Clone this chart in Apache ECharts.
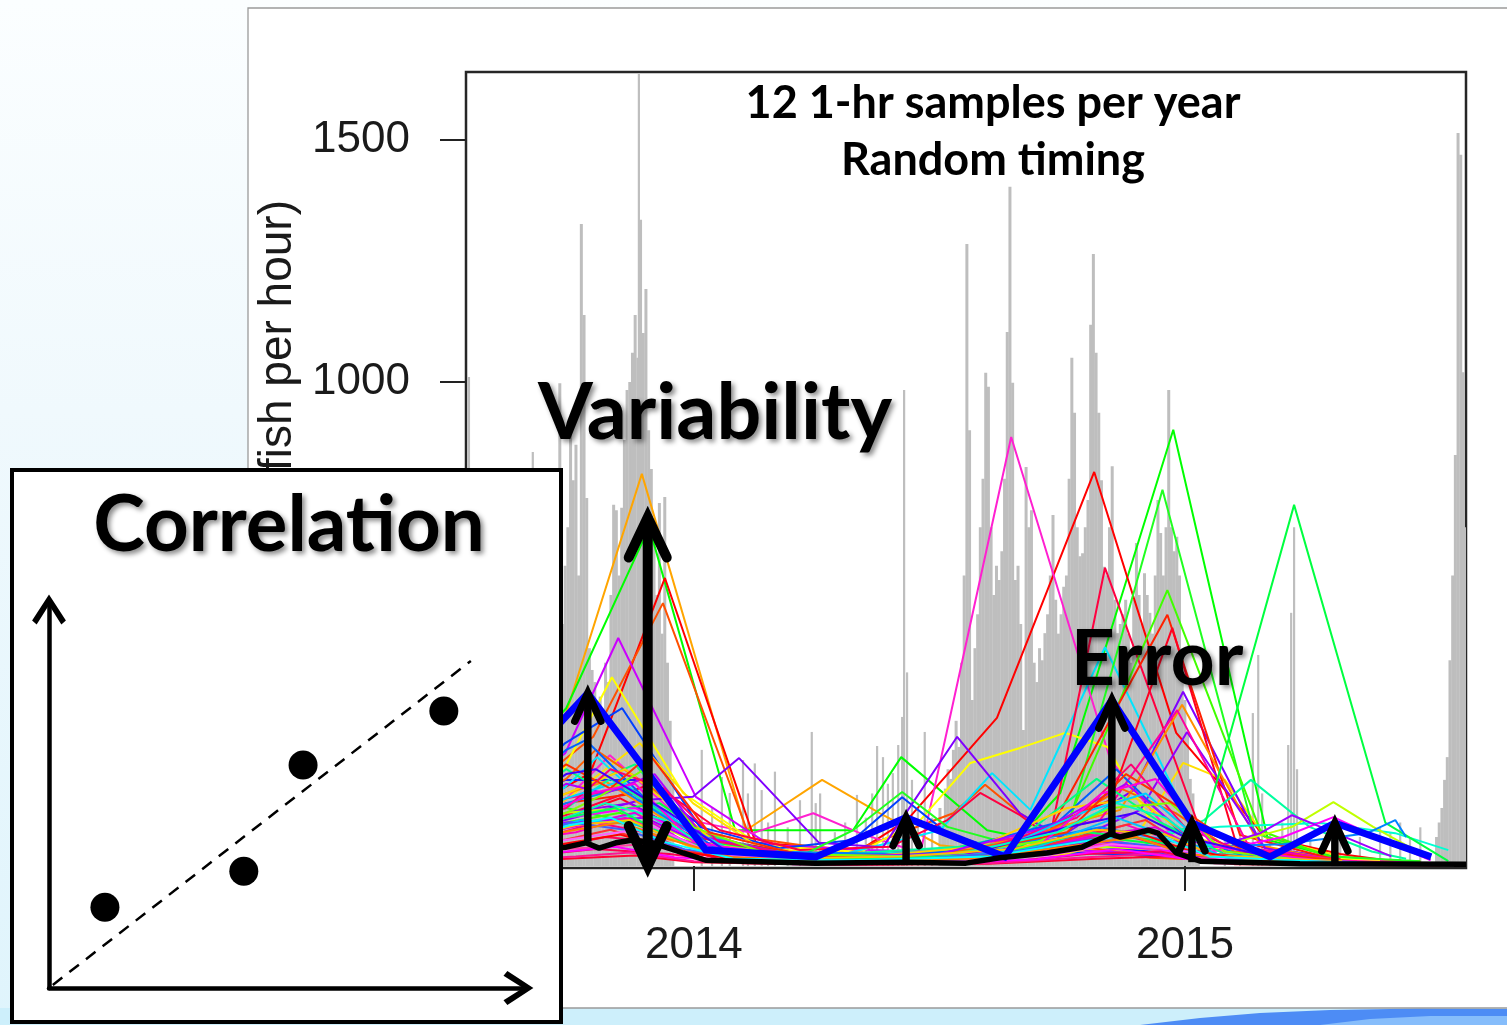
<!DOCTYPE html>
<html>
<head>
<meta charset="utf-8">
<script src="https://cdn.jsdelivr.net/npm/echarts@6/dist/echarts.min.js"></script>
<style>
html, body { margin: 0; padding: 0; }
body {
  width: 1507px; height: 1025px; overflow: hidden;
  background: linear-gradient(to bottom, #fbfeff 0%, #f0f9fd 40%, #dff4fc 100%);
}
#chart { width: 1507px; height: 1025px; }
</style>
</head>
<body>
<div id="chart"></div>
<script>
// ---- axes ----
const yearTicks = [2014, 2015];
const countTicks = [0, 500, 1000, 1500];

// ---- hourly counts (grey): daily peaks on a two-day grid through the busy stretches ----
const binYears = 2 / 365;
const run2013Start = 2013.727;
const run2013 = [997, 500, 620, 700, 907, 797, 870, 600, 1326, 1138, 760, 450, 405, 380, 330, 350,
  310, 420, 380, 560, 746, 735, 600, 740, 880, 983, 1000, 1060, 1138, 1050, 1335, 1101, 1192, 900,
  820, 700, 560, 750, 480, 762, 420, 300, 180];
const run2014Start = 2014.501;
const run2014 = [120, 90, 160, 200, 180, 240, 300, 246, 420, 600, 1285, 900, 343, 450, 520, 700, 800,
  1019, 990, 700, 560, 620, 591, 650, 800, 1103, 1403, 998, 591, 620, 500, 281, 824, 700, 735, 420,
  380, 450, 425, 481, 520, 600, 725, 550, 480, 520, 577, 600, 800, 1050, 936, 700, 640, 646, 700, 756,
  1118, 1264, 1060, 936, 797, 618, 600, 700, 826, 550, 481, 500, 520, 550, 480, 420, 550, 667, 560,
  500, 605, 560, 523, 480, 600, 756, 688, 600, 700, 983, 700, 650, 680, 600, 400, 343, 275, 180, 150,
  90, 60];
const run2015Start = 2015.512;
const run2015 = [60, 90, 120, 178, 225, 425, 600, 849, 1514, 1469, 1020, 700];
// single hourly peaks outside those stretches
const isolatedPeaks = [
  [2013.542, 1010], [2013.672, 855], [2013.888, 1636],
  [2014.016, 240], [2014.037, 120], [2014.057, 184], [2014.073, 151], [2014.100, 219], [2014.110, 150],
  [2014.124, 212], [2014.138, 157], [2014.151, 90], [2014.165, 195], [2014.191, 80], [2014.216, 136],
  [2014.240, 277], [2014.248, 130], [2014.257, 150], [2014.287, 70], [2014.308, 90], [2014.332, 147],
  [2014.350, 100], [2014.363, 150], [2014.373, 248], [2014.385, 225], [2014.395, 170], [2014.405, 192],
  [2014.416, 250], [2014.424, 308], [2014.428, 983], [2014.434, 400], [2014.444, 178], [2014.456, 120],
  [2014.470, 277], [2014.485, 100],
  [2015.081, 60], [2015.112, 80], [2015.138, 316], [2015.149, 436], [2015.157, 150], [2015.173, 70],
  [2015.198, 90], [2015.210, 250], [2015.216, 523], [2015.222, 700], [2015.228, 200], [2015.255, 60],
  [2015.316, 50], [2015.356, 60], [2015.397, 80], [2015.418, 70], [2015.438, 90], [2015.458, 60],
  [2015.479, 80]
];

// ---- simulated sampling runs: 12 one-hour samples per year, random timing ----
const sampledRuns = [
  [[2013.544,95],[2013.740,316],[2013.894,810],[2014.106,74],[2014.261,178],[2014.379,109],[2014.501,43],[2014.624,29],[2014.827,33],[2015.031,17],[2015.235,12],[2015.479,10]],
  [[2013.544,105],[2013.740,326],[2013.909,700],[2014.084,74],[2014.324,74],[2014.422,225],[2014.597,74],[2014.664,60],[2014.746,151],[2014.976,901],[2015.169,54],[2015.300,20],[2015.479,8]],
  [[2013.544,54],[2013.789,192],[2013.941,595],[2014.126,48],[2014.338,33],[2014.434,95],[2014.617,306],[2014.815,814],[2014.982,275],[2015.163,60],[2015.316,25],[2015.438,8]],
  [[2013.544,64],[2013.795,267],[2013.937,543],[2014.114,58],[2014.318,29],[2014.528,109],[2014.593,168],[2014.664,109],[2014.766,45],[2014.929,17],[2015.132,10],[2015.438,12]],
  [[2013.544,85],[2013.738,233],[2013.846,471],[2014.004,143],[2014.155,43],[2014.359,33],[2014.562,27],[2014.766,33],[2014.969,23],[2015.173,17],[2015.438,8]],
  [[2013.544,60],[2013.738,136],[2013.829,229],[2013.972,99],[2014.120,68],[2014.243,109],[2014.338,68],[2014.461,27],[2014.646,886],[2014.848,219],[2014.990,43],[2015.173,17],[2015.438,8]],
  [[2013.544,74],[2013.738,205],[2013.833,390],[2013.978,151],[2014.134,43],[2014.338,29],[2014.461,95],[2014.563,213],[2014.664,244],[2014.756,275],[2014.842,246],[2014.929,95],[2015.071,33],[2015.235,17],[2015.397,12]],
  [[2013.544,68],[2013.738,254],[2013.854,326],[2014.012,81],[2014.175,37],[2014.324,54],[2014.424,142],[2014.516,68],[2014.624,33],[2014.787,27],[2014.990,19],[2015.235,10]],
  [[2013.544,43],[2013.738,136],[2013.890,254],[2013.998,130],[2014.134,37],[2014.338,23],[2014.542,29],[2014.746,23],[2014.900,60],[2014.996,213],[2015.081,178],[2015.163,60],[2015.316,20]],
  [[2013.544,74],[2013.738,178],[2013.890,178],[2014.053,54],[2014.216,25],[2014.420,20],[2014.624,30],[2014.827,40],[2015.031,20],[2015.235,12]],
  [[2013.544,54],[2013.738,163],[2013.803,225],[2013.931,105],[2014.094,33],[2014.298,23],[2014.501,74],[2014.607,192],[2014.685,116],[2014.837,452],[2015.004,101],[2015.132,25],[2015.300,15]],
  [[2013.544,33],[2013.738,95],[2013.890,136],[2013.998,143],[2014.092,223],[2014.255,48],[2014.385,39],[2014.536,267],[2014.664,109],[2014.746,60],[2014.895,157],[2014.996,360],[2015.159,39],[2015.316,15]],
  [[2013.544,60],[2013.738,105],[2013.917,171],[2014.053,74],[2014.216,33],[2014.400,40],[2014.516,95],[2014.583,151],[2014.664,105],[2014.725,60],[2014.837,616],[2015.031,74],[2015.153,30],[2015.316,15]],
  [[2013.544,40],[2013.740,120],[2013.870,90],[2014.012,40],[2014.216,20],[2014.324,74],[2014.424,153],[2014.516,81],[2014.664,40],[2014.766,95],[2014.954,777],[2015.141,68],[2015.300,20],[2015.479,10]],
  [[2013.544,30],[2013.740,90],[2013.850,110],[2014.000,40],[2014.257,20],[2014.460,25],[2014.664,30],[2014.756,80],[2014.964,570],[2015.153,74],[2015.300,15]],
  [[2013.544,45],[2013.740,130],[2013.880,150],[2014.012,60],[2014.216,25],[2014.460,30],[2014.624,40],[2014.725,74],[2014.964,519],[2015.112,64],[2015.300,15]],
  [[2013.544,50],[2013.740,100],[2013.850,140],[2014.000,60],[2014.216,20],[2014.420,25],[2014.624,40],[2014.848,136],[2014.974,492],[2015.102,54],[2015.275,10]],
  [[2013.544,70],[2013.740,150],[2013.820,175],[2013.950,90],[2014.100,30],[2014.300,20],[2014.542,30],[2014.705,70],[2014.868,116],[2014.994,333],[2015.153,43],[2015.300,12]],
  [[2013.544,40],[2013.740,110],[2013.870,130],[2014.012,50],[2014.216,20],[2014.460,30],[2014.624,45],[2014.787,60],[2014.909,116],[2015.004,277],[2015.163,37],[2015.300,12]],
  [[2013.544,70],[2013.740,140],[2013.860,160],[2013.980,80],[2014.150,30],[2014.350,20],[2014.542,40],[2014.664,60],[2014.827,95],[2014.984,322],[2015.132,37],[2015.300,15]],
  [[2013.544,50],[2013.740,120],[2013.830,180],[2013.950,100],[2014.094,30],[2014.298,25],[2014.542,40],[2014.725,50],[2014.909,40],[2015.039,95],[2015.134,178],[2015.253,81],[2015.380,30],[2015.450,15]],
  [[2013.544,30],[2013.740,80],[2013.900,110],[2014.012,40],[2014.257,20],[2014.460,30],[2014.664,50],[2014.868,60],[2015.071,81],[2015.276,89],[2015.428,68],[2015.536,33]],
  [[2013.544,35],[2013.740,100],[2013.930,130],[2014.053,45],[2014.257,20],[2014.460,25],[2014.624,30],[2014.827,60],[2014.990,40],[2015.039,81],[2015.222,746],[2015.408,89],[2015.536,10]],
  [[2013.544,40],[2013.740,110],[2013.860,120],[2014.000,50],[2014.216,20],[2014.420,20],[2014.624,35],[2014.827,40],[2015.031,30],[2015.218,81],[2015.302,132],[2015.383,81],[2015.500,15]],
  [[2013.544,50],[2013.740,100],[2013.880,120],[2014.020,45],[2014.216,20],[2014.420,25],[2014.624,30],[2014.827,45],[2015.031,25],[2015.200,60],[2015.302,101],[2015.390,60],[2015.500,12]],
  [[2013.544,40],[2013.740,90],[2013.900,100],[2014.030,40],[2014.216,15],[2014.420,20],[2014.624,35],[2014.827,50],[2015.031,30],[2015.153,68],[2015.218,105],[2015.276,81],[2015.420,20]],
  [[2013.544,50],[2013.740,130],[2013.850,160],[2013.990,70],[2014.150,30],[2014.400,25],[2014.624,40],[2014.827,80],[2015.031,40],[2015.200,45],[2015.371,68],[2015.428,95],[2015.450,60]],
  [[2013.544,80],[2013.740,180],[2013.800,240],[2013.930,150],[2014.030,60],[2014.200,20],[2014.500,25],[2014.700,60],[2014.870,160],[2014.980,110],[2015.100,30],[2015.350,10]],
  [[2013.544,60],[2013.740,200],[2013.790,170],[2013.880,210],[2014.000,70],[2014.180,25],[2014.450,20],[2014.680,70],[2014.820,180],[2014.950,90],[2015.080,25],[2015.330,8]],
  [[2013.544,70],[2013.740,240],[2013.780,260],[2013.900,140],[2014.040,40],[2014.250,15],[2014.520,30],[2014.740,90],[2014.860,200],[2014.990,70],[2015.120,20],[2015.400,6]],
  [[2013.544,50],[2013.740,150],[2013.860,200],[2013.960,120],[2014.060,35],[2014.300,15],[2014.580,40],[2014.760,120],[2014.900,140],[2015.010,60],[2015.200,15]],
  [[2013.544,55],[2013.740,170],[2013.820,150],[2013.920,190],[2014.020,60],[2014.220,20],[2014.500,25],[2014.720,80],[2014.880,170],[2015.020,50],[2015.250,10]],
  [[2013.544,65],[2013.740,120],[2013.830,200],[2013.940,160],[2014.050,50],[2014.250,15],[2014.550,20],[2014.780,100],[2014.890,210],[2015.000,80],[2015.150,15]],
  [[2013.544,45],[2013.740,140],[2013.850,175],[2013.970,90],[2014.080,30],[2014.300,12],[2014.600,25],[2014.790,110],[2014.920,150],[2015.040,45],[2015.250,10]],
  [[2013.544,40],[2013.740,110],[2013.810,145],[2013.900,200],[2014.000,80],[2014.150,25],[2014.480,20],[2014.700,50],[2014.850,120],[2014.970,130],[2015.080,30],[2015.300,8]],
  [[2013.544,75],[2013.740,210],[2013.830,160],[2013.910,230],[2014.030,70],[2014.240,18],[2014.520,20],[2014.760,70],[2014.880,190],[2014.990,120],[2015.120,30],[2015.350,8]],
  [[2013.544,50],[2013.740,125],[2013.790,150],[2013.880,170],[2014.000,50],[2014.200,15],[2014.450,15],[2014.700,40],[2014.830,150],[2014.940,180],[2015.060,40],[2015.300,8]],
  [[2013.544,60],[2013.740,190],[2013.800,200],[2013.950,110],[2014.060,35],[2014.280,12],[2014.560,25],[2014.760,80],[2014.900,110],[2015.000,60],[2015.200,12]],
  [[2013.544,40],[2013.740,100],[2013.820,130],[2013.940,95],[2014.040,30],[2014.260,15],[2014.540,25],[2014.740,70],[2014.860,130],[2014.960,100],[2015.060,25],[2015.300,8]],
  [[2013.544,30],[2013.700,60],[2013.800,90],[2013.900,70],[2014.000,25],[2014.200,10],[2014.400,12],[2014.600,20],[2014.750,50],[2014.850,70],[2014.950,45],[2015.050,15],[2015.250,8],[2015.500,5]],
  [[2013.544,20],[2013.720,40],[2013.820,60],[2013.920,50],[2014.050,15],[2014.300,8],[2014.550,10],[2014.700,35],[2014.800,55],[2014.900,60],[2015.000,25],[2015.200,6],[2015.480,4]],
  [[2013.544,40],[2013.760,70],[2013.860,100],[2013.960,60],[2014.080,20],[2014.350,15],[2014.600,15],[2014.720,40],[2014.880,85],[2014.980,50],[2015.100,15],[2015.350,10],[2015.520,5]],
  [[2013.544,25],[2013.740,55],[2013.830,75],[2013.940,40],[2014.100,12],[2014.400,10],[2014.650,25],[2014.780,60],[2014.920,95],[2015.020,30],[2015.200,10],[2015.450,6]],
  [[2013.544,35],[2013.750,80],[2013.880,110],[2014.000,40],[2014.200,15],[2014.450,18],[2014.680,30],[2014.830,65],[2014.940,80],[2015.060,20],[2015.300,8],[2015.500,4]],
  [[2013.544,30],[2013.770,95],[2013.890,85],[2014.020,30],[2014.250,12],[2014.500,15],[2014.700,40],[2014.860,100],[2014.970,60],[2015.080,20],[2015.350,8]],
  [[2013.544,45],[2013.740,100],[2013.840,120],[2013.960,55],[2014.100,20],[2014.380,15],[2014.620,25],[2014.800,70],[2014.930,55],[2015.050,18],[2015.300,10]],
  [[2013.544,30],[2013.760,85],[2013.870,95],[2013.990,40],[2014.150,15],[2014.420,20],[2014.650,35],[2014.820,75],[2014.960,65],[2015.060,22],[2015.320,10]],
  [[2013.544,20],[2013.730,45],[2013.850,65],[2013.970,30],[2014.120,10],[2014.360,8],[2014.600,12],[2014.760,45],[2014.900,70],[2015.000,35],[2015.150,8],[2015.480,3]],
  [[2013.544,15],[2013.740,35],[2013.900,45],[2014.030,15],[2014.300,5],[2014.550,8],[2014.750,30],[2014.870,50],[2014.990,20],[2015.200,4],[2015.520,2]],
  [[2013.544,40],[2013.750,90],[2013.860,75],[2013.980,35],[2014.150,12],[2014.400,10],[2014.640,28],[2014.810,55],[2014.950,40],[2015.080,15],[2015.400,6]],
  [[2013.544,10],[2013.700,25],[2013.800,35],[2013.950,25],[2014.100,6],[2014.400,4],[2014.650,10],[2014.800,25],[2014.950,30],[2015.050,10],[2015.300,3],[2015.520,2]],
  [[2013.544,25],[2013.780,60],[2013.920,80],[2014.040,25],[2014.260,10],[2014.500,10],[2014.720,22],[2014.850,45],[2014.980,35],[2015.100,10],[2015.400,4]],
  [[2013.544,35],[2013.760,75],[2013.850,90],[2013.950,55],[2014.080,18],[2014.300,10],[2014.560,15],[2014.760,40],[2014.900,60],[2015.000,25],[2015.250,6]],
  [[2013.544,25],[2013.750,85],[2013.830,100],[2013.940,50],[2014.080,15],[2014.330,12],[2014.600,20],[2014.790,50],[2014.930,70],[2015.050,20],[2015.300,8]],
  [[2013.544,5],[2013.740,15],[2013.880,22],[2014.000,8],[2014.300,2],[2014.600,5],[2014.820,15],[2014.960,20],[2015.100,4],[2015.520,1]],
  [[2013.544,8],[2013.760,20],[2013.870,28],[2014.000,10],[2014.300,3],[2014.600,6],[2014.800,18],[2014.940,25],[2015.060,6],[2015.400,2]],
  [[2013.544,12],[2013.720,28],[2013.840,40],[2013.960,18],[2014.200,4],[2014.500,6],[2014.700,14],[2014.860,35],[2015.000,15],[2015.300,3],[2015.500,2]]
];
const runColors = [
  '#FFA500', '#00FF00', '#FF0000', '#FF5000', '#CC00FF', '#FF20D0', '#FFFF00', '#0040FF', '#FFE000',
  '#2020FF', '#00E5FF', '#8000FF', '#FF0040', '#20FF20', '#40FF00', '#FF2000', '#FF0020', '#FF9000',
  '#9000FF', '#FF00A0', '#00FFA0', '#00FFD0', '#00FF40', '#C0FF00', '#FF00FF', '#A000FF', '#0080FF',
  '#FF6000', '#00FF80', '#0060FF', '#FFD000', '#B000FF', '#FF0070', '#00D0FF', '#80FF00', '#FF3000',
  '#FF00E0', '#4000FF', '#00FFC0',
  '#FF0080', '#FF0060', '#FF00C0', '#FF3030', '#E000E0', '#00C0FF', '#00FF60', '#FFC000', '#FF0000',
  '#FF40A0', '#4060FF', '#FF0050', '#FF60FF', '#FF8000', '#00FFFF', '#FF0030', '#FF1493', '#FF00FF'
];

// one highlighted run and the smoothed hourly mean
const highlightedRun = [[2013.640,200],[2013.784,357],[2014.024,33],[2014.248,19],[2014.432,100],[2014.633,19],
  [2014.851,343],[2015.014,89],[2015.173,19],[2015.305,89],[2015.501,19]];
const smoothedMean = [[2013.544,29],[2013.740,39],[2013.780,48],[2013.807,37],[2013.841,48],[2013.876,54],
  [2013.916,48],[2013.978,27],[2014.024,12],[2014.248,6],[2014.420,8],[2014.554,6],[2014.623,17],[2014.719,27],
  [2014.790,39],[2014.848,66],[2014.868,60],[2014.925,74],[2014.945,68],[2014.982,27],[2015.031,10],
  [2015.234,5],[2015.572,4]];

// annotation spans: [time, from, to]
const variabilitySpan = [[2013.906, 0, 720]];
const errorSpans = [[2013.784, 50, 357], [2014.432, 8, 100], [2014.851, 62, 343], [2015.014, 8, 89], [2015.305, 0, 89]];

// inset: correlation sketch
const corrPoints = [[1.18, 2.11], [4.11, 3.05], [5.36, 5.82], [8.33, 7.23]];
const corrTrend = [[0.08, 0.08], [8.90, 8.54]];

// ---- build ----
const runBins = [];
[[run2013Start, run2013], [run2014Start, run2014], [run2015Start, run2015]].forEach(([start, vals]) => {
  vals.forEach((v, k) => runBins.push([start + k * binYears, v]));
});

function spikeRenderer(w) {
  return function (params, api) {
    const x = api.value(0);
    const top = api.coord([x, api.value(1)]);
    const base = api.coord([x, 0]);
    return {
      type: 'rect',
      shape: { x: top[0] - w / 2, y: top[1], width: w, height: base[1] - top[1] },
      style: { fill: '#bebebe' }
    };
  };
}

function arrowRenderer(lw, hw, hl, bothEnds) {
  return function (params, api) {
    const x = api.value(0);
    const a = api.coord([x, api.value(1)]);
    const b = api.coord([x, api.value(2)]);
    const st = { stroke: '#000', fill: null, lineWidth: lw, lineCap: 'round', lineJoin: 'miter' };
    const children = [
      { type: 'line', shape: { x1: a[0], y1: a[1], x2: b[0], y2: b[1] }, style: { stroke: '#000', lineWidth: lw } },
      { type: 'polyline', shape: { points: [[b[0] - hw, b[1] + hl], [b[0], b[1]], [b[0] + hw, b[1] + hl]] }, style: st }
    ];
    if (bothEnds) {
      children.push({ type: 'polyline', shape: { points: [[a[0] - hw, a[1] - hl], [a[0], a[1]], [a[0] + hw, a[1] - hl]] }, style: st });
    }
    return { type: 'group', children };
  };
}

// open arrow head for the inset axes; its box is centred on the inner notch
const chevron = 'path://M13,-7 L13.02,-7 L13,-6.98 Z M13,0 L26,20 L22.5,23 L13,8 L3.5,23 L0,20 Z';

const series = [
  { type: 'custom', name: 'bins', data: runBins, renderItem: spikeRenderer(3), encode: { x: 0, y: 1 }, clip: true, silent: true, z: 2 },
  { type: 'custom', name: 'peaks', data: isolatedPeaks, renderItem: spikeRenderer(2.2), encode: { x: 0, y: 1 }, clip: true, silent: true, z: 2 }
];
sampledRuns.forEach((pts, i) => {
  series.push({
    type: 'line', data: pts, showSymbol: false, symbol: 'none', silent: true, z: 3,
    lineStyle: { width: 2, color: runColors[i % runColors.length] }
  });
});
series.push(
  { type: 'line', data: highlightedRun, showSymbol: false, symbol: 'none', silent: true, z: 4,
    lineStyle: { width: 7, color: '#0000FF', join: 'miter' } },
  { type: 'line', data: smoothedMean, showSymbol: false, symbol: 'none', silent: true, z: 5,
    lineStyle: { width: 5.5, color: '#000' } },
  { type: 'custom', data: variabilitySpan, renderItem: arrowRenderer(10, 19, 40, true), encode: { x: 0, y: [1, 2] }, clip: false, silent: true, z: 6 },
  { type: 'custom', data: errorSpans, renderItem: arrowRenderer(7.5, 13, 28, false), encode: { x: 0, y: [1, 2] }, clip: false, silent: true, z: 6 },
  { type: 'line', xAxisIndex: 1, yAxisIndex: 1, data: corrTrend, showSymbol: false, symbol: 'none', silent: true, z: 60,
    lineStyle: { color: '#000', width: 2.5, type: [12, 9] } },
  { type: 'scatter', xAxisIndex: 1, yAxisIndex: 1, data: corrPoints, symbolSize: 29, silent: true, z: 61,
    itemStyle: { color: '#000', opacity: 1 } }
);

const tickFont = { fontSize: 44, fontFamily: 'Liberation Sans, Arial, sans-serif', color: '#1a1a1a' };
const shadowText = { textShadowColor: 'rgba(0,0,0,0.45)', textShadowBlur: 5, textShadowOffsetX: 3, textShadowOffsetY: 3 };

const option = {
  animation: false,
  backgroundColor: 'transparent',
  grid: [
    { left: 466, top: 72, width: 1000, height: 796, show: true, borderColor: '#262626', borderWidth: 2.5,
      backgroundColor: 'transparent', containLabel: false, outerBoundsMode: 'none' },
    { left: 49, top: 605, width: 474, height: 383, show: false, containLabel: false, outerBoundsMode: 'none' }
  ],
  xAxis: [
    { type: 'value', gridIndex: 0, min: 2013.536, max: 2015.572,
      axisLine: { show: false }, splitLine: { show: false },
      axisTick: { show: true, customValues: yearTicks, length: 25, lineStyle: { color: '#222', width: 2 } },
      axisLabel: Object.assign({ customValues: yearTicks, margin: 56, formatter: v => String(v) }, tickFont) },
    { type: 'value', gridIndex: 1, min: 0, max: 10, z: 60,
      axisLine: { show: true, onZero: false, symbol: ['none', chevron], symbolSize: [34, 39], lineStyle: { color: '#000', width: 4.5 } },
      axisTick: { show: false }, axisLabel: { show: false }, splitLine: { show: false } }
  ],
  yAxis: [
    { type: 'value', gridIndex: 0, min: -4, max: 1640,
      axisLine: { show: false }, splitLine: { show: false },
      axisTick: { show: true, customValues: countTicks, length: 26, lineStyle: { color: '#222', width: 2 } },
      axisLabel: Object.assign({ customValues: countTicks, margin: 56, formatter: v => String(v) }, tickFont) },
    { type: 'value', gridIndex: 1, min: 0, max: 10, z: 60,
      axisLine: { show: true, onZero: false, symbol: ['none', chevron], symbolSize: [34, 39], lineStyle: { color: '#000', width: 4.5 } },
      axisTick: { show: false }, axisLabel: { show: false }, splitLine: { show: false } }
  ],
  graphic: [
    // slide strip and figure panel
    { type: 'rect', z: -20, shape: { x: 0, y: 1008, width: 1507, height: 17 }, style: { fill: '#cdeffb' } },
    { type: 'polygon', z: -19, shape: { points: [[1140,1025],[1200,1018],[1260,1013],[1330,1010],[1420,1008.5],[1507,1009],[1507,1025]] }, style: { fill: '#4d8cf5' } },
    { type: 'polygon', z: -18, shape: { points: [[1320,1025],[1370,1019],[1430,1016],[1507,1016],[1507,1025]] }, style: { fill: '#86bdfb' } },
    { type: 'rect', z: -10, shape: { x: 248, y: 8, width: 1280, height: 1000 }, style: { fill: '#ffffff', stroke: '#9a9a9a', lineWidth: 1.3 } },
    { type: 'text', z: 5, x: 278, y: 200, rotation: Math.PI / 2,
      style: { text: 'Abundance (fish per hour)', textAlign: 'right', textVerticalAlign: 'middle',
        font: '46px "Liberation Sans", Arial, sans-serif', fill: '#1a1a1a' } },
    { type: 'text', z: 40, x: 993, y: 103,
      style: { text: '12 1-hr samples per year', textAlign: 'center', textVerticalAlign: 'middle', font: 'bold 45px Lato, sans-serif', fill: '#000' } },
    { type: 'text', z: 40, x: 993, y: 160,
      style: { text: 'Random timing', textAlign: 'center', textVerticalAlign: 'middle', font: 'bold 45px Lato, sans-serif', fill: '#000' } },
    { type: 'text', z: 45, x: 715, y: 414,
      style: Object.assign({ text: 'Variability', textAlign: 'center', textVerticalAlign: 'middle', font: 'bold 79px Lato, sans-serif', fill: '#000' }, shadowText) },
    { type: 'text', z: 45, x: 1157, y: 660,
      style: Object.assign({ text: 'Error', textAlign: 'center', textVerticalAlign: 'middle', font: 'bold 77px Lato, sans-serif', fill: '#000' }, shadowText) },
    // inset panel
    { type: 'rect', z: 50, shape: { x: 12, y: 470, width: 549, height: 552 }, style: { fill: '#ffffff', stroke: '#000', lineWidth: 4 } },
    { type: 'text', z: 62, x: 289, y: 526,
      style: Object.assign({ text: 'Correlation', textAlign: 'center', textVerticalAlign: 'middle', font: 'bold 78px Lato, sans-serif', fill: '#000' }, shadowText) }
  ],
  series
};

const chart = echarts.init(document.getElementById('chart'), null, { renderer: 'canvas' });
chart.setOption(option);
</script>
</body>
</html>
